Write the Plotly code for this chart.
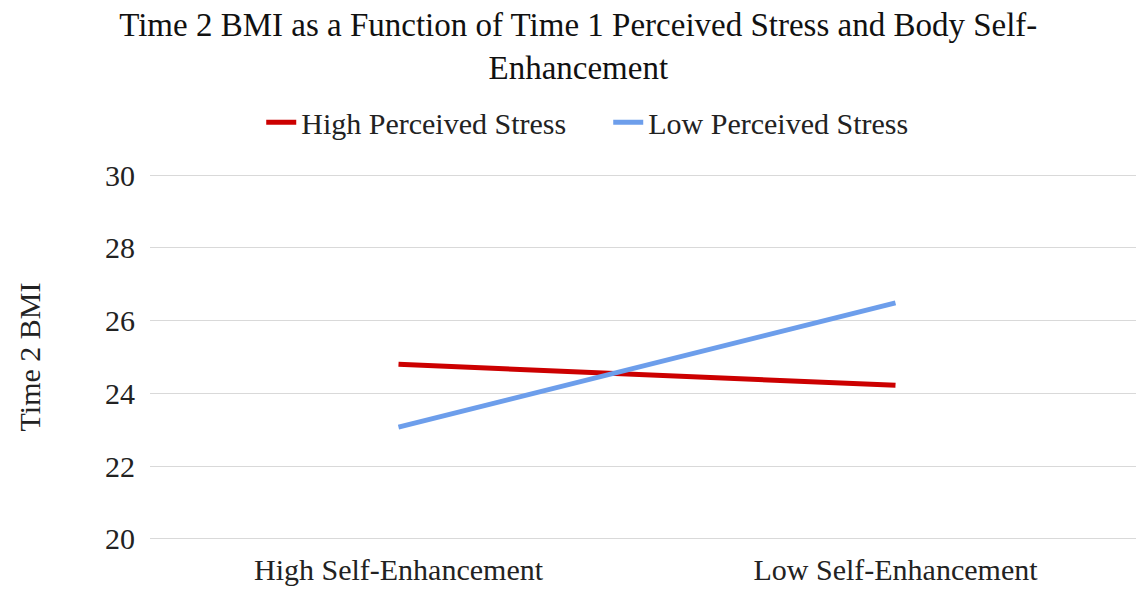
import plotly.graph_objects as go

categories = ["High Self-Enhancement", "Low Self-Enhancement"]
high_stress = [24.8, 24.22]
low_stress = [23.07, 26.49]
y_ticks = [20, 22, 24, 26, 28, 30]

FONT = "Liberation Serif"
TXT = "#222222"

fig = go.Figure()
fig.add_trace(go.Scatter(x=categories, y=high_stress, mode="lines",
                         name="High Perceived Stress",
                         line=dict(color="#cc0000", width=5)))
fig.add_trace(go.Scatter(x=categories, y=low_stress, mode="lines",
                         name="Low Perceived Stress",
                         line=dict(color="#6d9eeb", width=5)))

# page body has an 8px margin: the figure is sized/offset to compensate
fig.update_layout(
    width=1136, height=581,
    paper_bgcolor="white", plot_bgcolor="white",
    margin=dict(l=142, r=0, t=165, b=48),
    font=dict(family=FONT, color=TXT, size=30),
    title=dict(text="Time 2 BMI as a Function of Time 1 Perceived Stress and Body Self-<br>Enhancement",
               x=0.502, xanchor="center", y=0.951, yanchor="top",
               font=dict(family=FONT, size=33, color="#111111")),
    legend=dict(orientation="h", x=0.461, xanchor="center", y=1.138, yanchor="middle",
                entrywidth=302,
                font=dict(family=FONT, size=30, color=TXT)),
    showlegend=True,
)
fig.update_xaxes(range=[-0.5, 1.5], showgrid=False, showline=False, zeroline=False,
                 tickfont=dict(family=FONT, size=30, color=TXT), ticklen=0,
                 ticklabelstandoff=8)
fig.update_yaxes(range=[19.94, 30.06], tickvals=y_ticks, showgrid=True, gridcolor="#d9d9d9",
                 gridwidth=1, zeroline=False, showline=False,
                 tickfont=dict(family=FONT, size=30, color=TXT),
                 ticklabelstandoff=14,
                 title=dict(text="Time 2 BMI", standoff=55,
                            font=dict(family=FONT, size=30, color=TXT)))

fig.write_html("out.html")
